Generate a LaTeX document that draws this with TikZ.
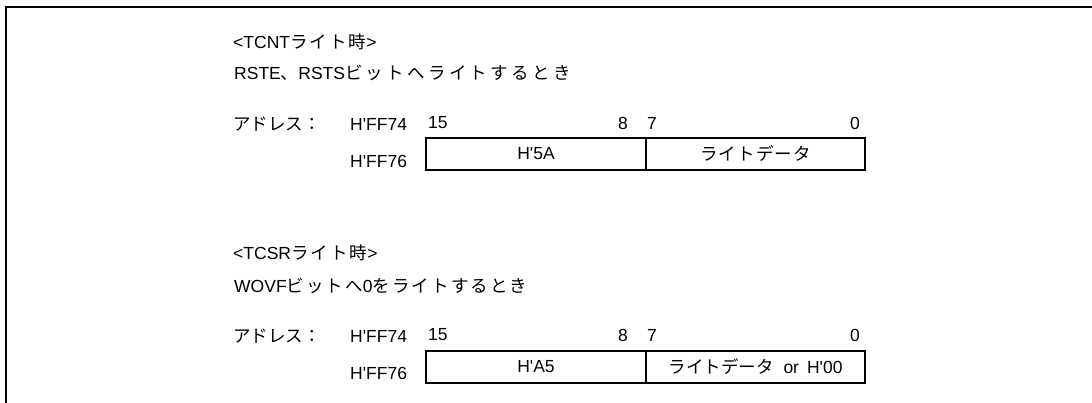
\documentclass[tikz,border=0pt]{standalone}
\usepackage{fontspec}
\setmainfont{Liberation Sans}
\newfontfamily\jp{Noto Sans CJK JP}
\newfontfamily\jps{Noto Sans CJK JP}[LetterSpace=19]
\newfontfamily\jpt{Noto Sans CJK JP}[LetterSpace=12]
\newfontfamily\jpm{Noto Sans CJK JP}[LetterSpace=6]
\newcommand{\q}{\textquotesingle}
\begin{document}
\begin{tikzpicture}[x=1pt,y=-1pt,
  txt/.style={inner sep=0pt,font=\fontsize{17.5}{19}\selectfont},
  lbl/.style={txt,anchor=west},
  cell/.style={draw,line width=2pt,minimum height=32pt,inner sep=0pt,font=\fontsize{17.5}{19}\selectfont}]
\useasboundingbox (0,0) rectangle (1092,403);
\draw[line width=2pt] (6,403) -- (6,7) -- (1092,7);
% ---- TCNT
\node[lbl] (h1) at (233,42) {<TCNT{\jpt ライト時}>};
\node[lbl] (s1) at (234,73) {RSTE{\jp 、}RSTS{\jps ビットへライトするとき}};
\node[lbl] (ad1) at (233,124) {\jp アドレス：};
\node[lbl] (a1) at (350,124) {H\q FF74};
\node[lbl] (b1) at (350,161) {H\q FF76};
\node[lbl] (n15a) at (428,123) {15};
\node[txt] (n8a) at (623,123) {8};
\node[txt] (n7a) at (652,123) {7};
\node[txt] (n0a) at (855,123) {0};
\node[cell,minimum width=220pt] (c1a) at (536,154) {H\q 5A};
\node[cell,minimum width=219pt] (c2a) at (755.5,154) {\jpm ライトデータ};
% ---- TCSR
\node[lbl] (h2) at (233,253) {<TCSR{\jpt ライト時}>};
\node[lbl] (s2) at (234,286) {WOVF{\jpt ビットへ}0{\jpt をライトするとき}};
\node[lbl] (ad2) at (233,336) {\jp アドレス：};
\node[lbl] (a2) at (350,336) {H\q FF74};
\node[lbl] (b2) at (350,373) {H\q FF76};
\node[lbl] (n15b) at (428,335) {15};
\node[txt] (n8b) at (623,335) {8};
\node[txt] (n7b) at (652,335) {7};
\node[txt] (n0b) at (855,335) {0};
\node[cell,minimum width=220pt] (c1b) at (536,366.5) {H\q A5};
\node[cell,minimum width=219pt] (c2b) at (755.5,366.5) {{\jp ライトデータ}\hspace{10pt}or\hspace{8pt}H\q 00};
\end{tikzpicture}
\end{document}
